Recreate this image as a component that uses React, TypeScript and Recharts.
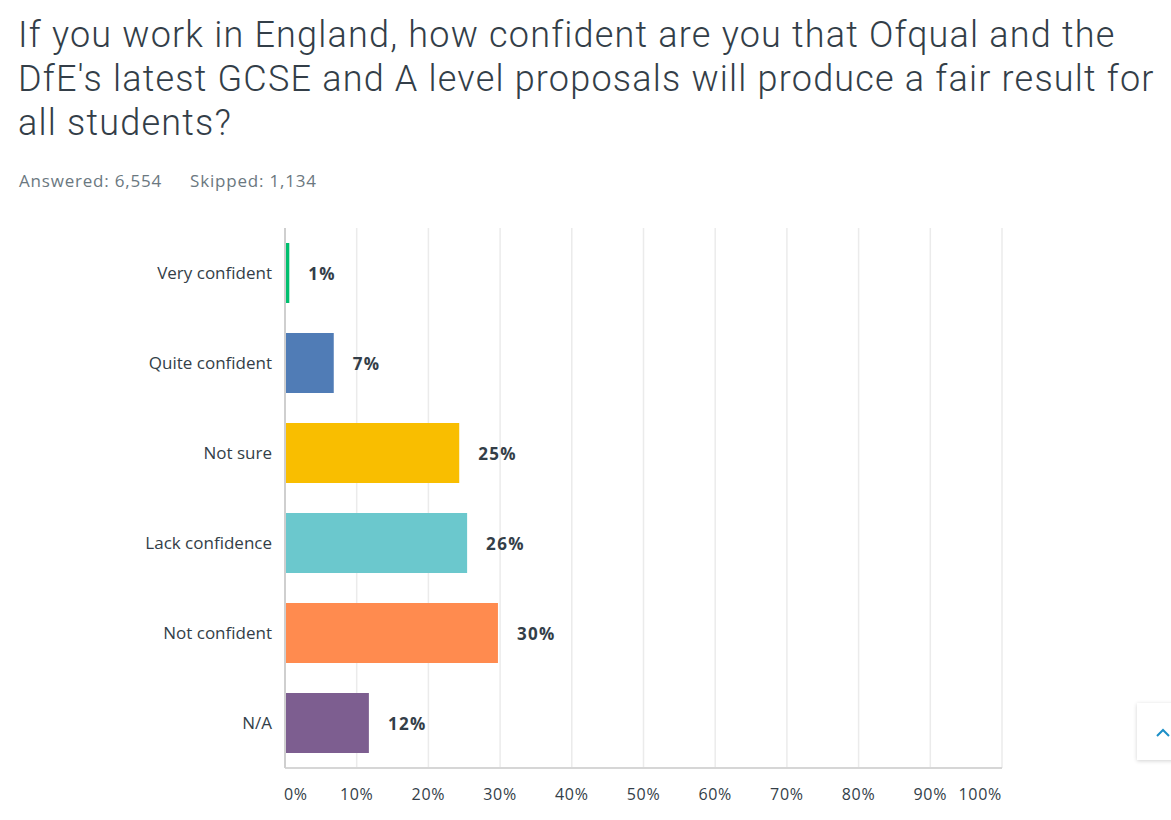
import React from "react";
import { BarChart, Bar, XAxis, YAxis, CartesianGrid, Cell, LabelList } from "recharts";

const categories = ["Very confident", "Quite confident", "Not sure", "Lack confidence", "Not confident", "N/A"];
// bar lengths (percent of respondents)
const shares = [0.6, 6.8, 24.3, 25.4, 29.7, 11.7];
// labels as printed next to the bars
const shareLabels = ["1%", "7%", "25%", "26%", "30%", "12%"];
const barColors = ["#00bf6f", "#507cb6", "#f9be00", "#6bc8cd", "#ff8b4f", "#7d5e90"];
const xTicks = [0, 10, 20, 30, 40, 50, 60, 70, 80, 90, 100];

const titleLines = [
  "If you work in England, how confident are you that Ofqual and the",
  "DfE's latest GCSE and A level proposals will produce a fair result for",
  "all students?",
];
const answered = "Answered: 6,554";
const skipped = "Skipped: 1,134";

const FONT = "'Open Sans', Roboto, sans-serif";
const TITLE_FONT = "Roboto, 'Open Sans', sans-serif";
const TEXT = "#333e48";

const data = categories.map((name, i) => ({ name, value: shares[i], label: shareLabels[i] }));

function XTick(props: any) {
  const { x, y, payload } = props;
  const v = payload.value as number;
  let anchor: "start" | "middle" | "end" = "middle";
  let dx = 0;
  if (v === 0) {
    anchor = "start";
    dx = -1;
  } else if (v === 100) {
    anchor = "end";
  }
  return (
    <text
      x={x + dx}
      y={y + 2}
      dy="0.71em"
      textAnchor={anchor}
      fill={TEXT}
      fontSize={16}
      letterSpacing={0.7}
      fontFamily={FONT}
    >
      {v}%
    </text>
  );
}

function ValueLabel(props: any) {
  const { x, y, width, height, index } = props;
  return (
    <text
      x={x + width + 19}
      y={y + height / 2}
      dominantBaseline="central"
      fill={TEXT}
      fontSize={17}
      fontWeight={700}
      letterSpacing={1.3}
      fontFamily={FONT}
    >
      {data[index].label}
    </text>
  );
}

export default function App() {
  return (
    <div
      style={{
        position: "absolute",
        left: 0,
        top: 0,
        width: 1171,
        height: 820,
        background: "#fff",
        overflow: "hidden",
        fontFamily: FONT,
        color: TEXT,
      }}
    >
      <div
        style={{
          position: "absolute",
          left: 18,
          top: 13,
          fontSize: 36,
          lineHeight: "44px",
          fontWeight: 300,
          letterSpacing: 1.2,
          fontFamily: TITLE_FONT,
          whiteSpace: "nowrap",
        }}
      >
        {titleLines.map((l) => (
          <div key={l}>{l}</div>
        ))}
      </div>
      <div
        style={{
          position: "absolute",
          left: 19,
          top: 169,
          fontSize: 17,
          letterSpacing: 0.8,
          color: "#6b787f",
        }}
      >
        <span>{answered}</span>
        <span style={{ marginLeft: 28 }}>{skipped}</span>
      </div>

      <div style={{ position: "absolute", left: 0, top: 200 }}>
        <BarChart
          width={1171}
          height={620}
          data={data}
          layout="vertical"
          margin={{ top: 28, right: 169, bottom: 12, left: 0 }}
        >
          <CartesianGrid horizontal={false} stroke="#ebebeb" strokeWidth={1.5} />
          <XAxis
            type="number"
            domain={[0, 100]}
            ticks={xTicks}
            interval={0}
            height={40}
            tickLine={false}
            tickMargin={13}
            axisLine={{ stroke: "#d6d6d6", strokeWidth: 2 }}
            tick={<XTick />}
          />
          <YAxis
            type="category"
            dataKey="name"
            width={285}
            tickLine={false}
            tickMargin={7}
            axisLine={{ stroke: "#cfcfcf", strokeWidth: 2 }}
            tick={{ fill: TEXT, fontSize: 17, fontFamily: FONT }}
          />
          <Bar dataKey="value" barSize={60} isAnimationActive={false}>
            {data.map((d, i) => (
              <Cell key={d.name} fill={barColors[i]} />
            ))}
            <LabelList dataKey="label" content={<ValueLabel />} />
          </Bar>
        </BarChart>
      </div>

      <div
        style={{
          position: "absolute",
          left: 1137,
          top: 703,
          width: 50,
          height: 57,
          background: "#fff",
          boxShadow: "0 1px 4px rgba(0,0,0,0.18)",
        }}
      >
        <svg width={30} height={57} style={{ position: "absolute", left: 18, top: 0 }}>
          <polyline points="2,33 8,27 14,33" fill="none" stroke="#1c8fc7" strokeWidth={2} />
        </svg>
      </div>
    </div>
  );
}
